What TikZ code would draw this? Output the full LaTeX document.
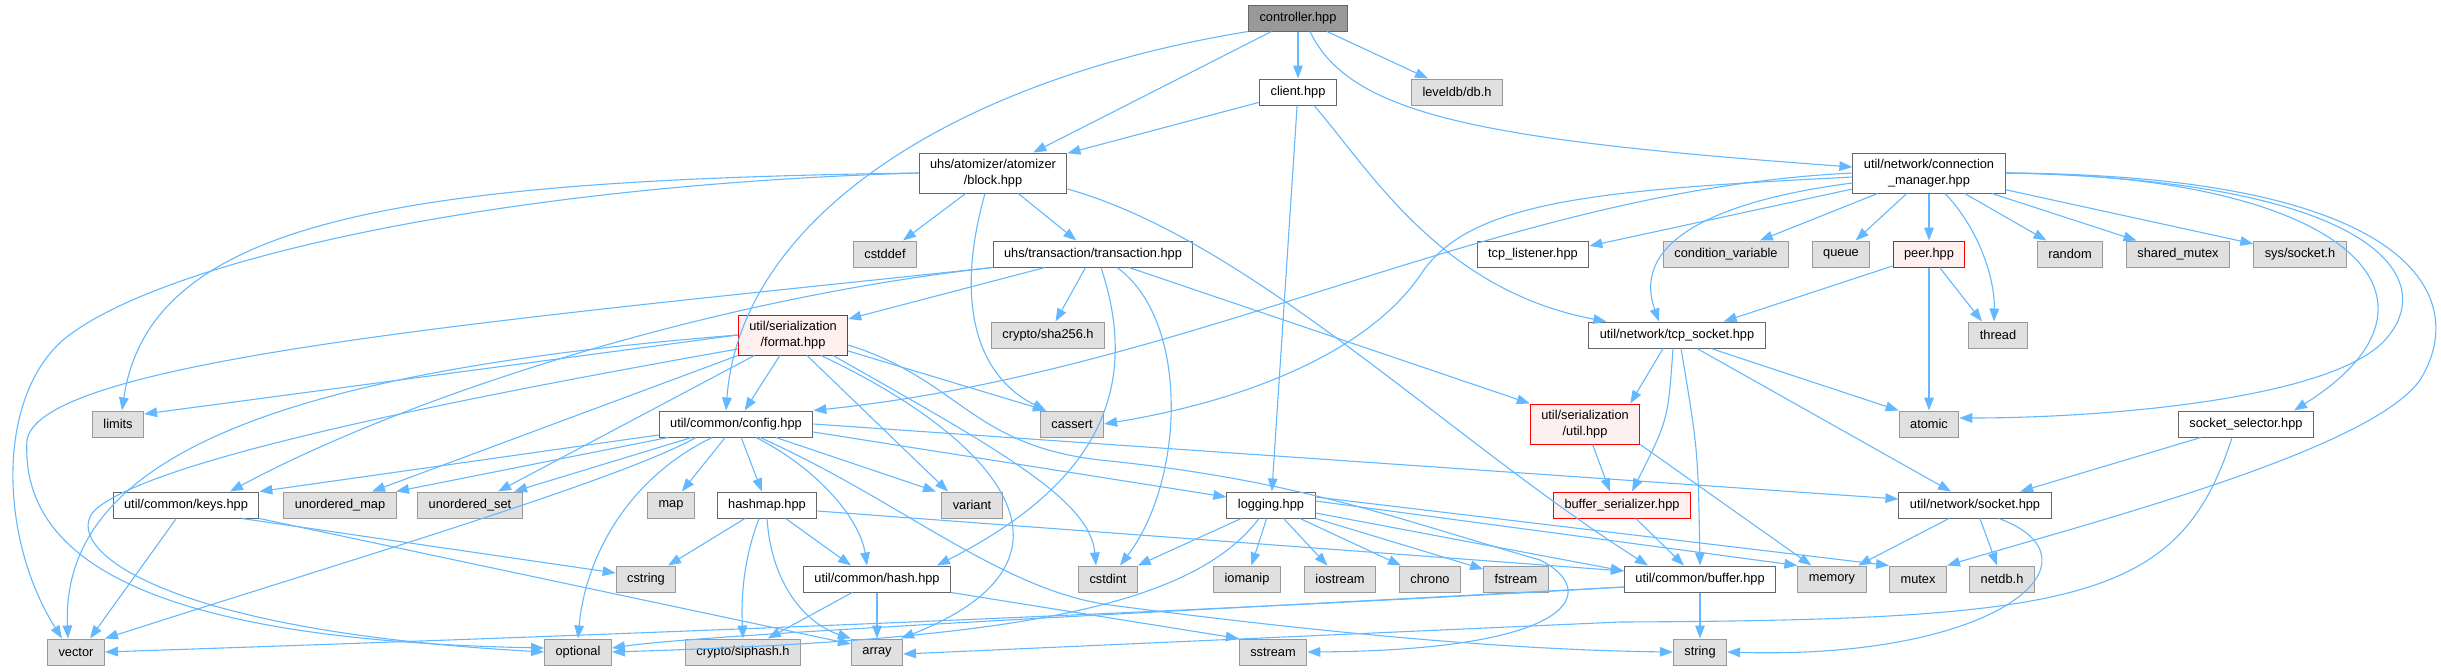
\documentclass[tikz,border=0pt]{standalone}
\usepackage{fontspec}
\setmainfont{Liberation Sans}
\usetikzlibrary{arrows.meta}
\tikzset{
  hdr/.style={draw={rgb,255:red,102;green,102;blue,102},fill=white,line width=0.5pt,inner xsep=5.5pt,inner ysep=0pt,minimum height=13pt,align=center,font=\fontsize{6.4}{7.7}\selectfont},
  sys/.style={hdr,draw={rgb,255:red,153;green,153;blue,153},fill={rgb,255:red,224;green,224;blue,224}},
  top/.style={hdr,fill={rgb,255:red,153;green,153;blue,153}},
  trunc/.style={hdr,draw={rgb,255:red,255;green,0;blue,0},fill={rgb,255:red,255;green,240;blue,240}},
  twoline/.style={minimum height=20pt},
  dep/.style={draw={rgb,255:red,99;green,184;blue,255},line width=0.55pt,-{Triangle[length=6.5pt,width=4.8pt]}}
}
\begin{document}
\begin{tikzpicture}[x=.5pt,y=-.5pt]
\path[use as bounding box] (0,0) rectangle (2441,671);
\node[top] (ctrl) at (1298,18) {controller.hpp};
\node[hdr] (client) at (1298,92) {client.hpp};
\node[sys] (leveldb) at (1457,92) {leveldb/db.h};
\node[hdr,twoline] (block) at (993,173) {uhs/atomizer/atomizer\\/block.hpp};
\node[hdr,twoline] (connmgr) at (1929,173) {util/network/connection\\\_manager.hpp};
\node[sys] (cstddef) at (885,254) {cstddef};
\node[hdr] (transaction) at (1093,254) {uhs/transaction/transaction.hpp};
\node[hdr] (tcplistener) at (1533,254) {tcp\_listener.hpp};
\node[sys] (condvar) at (1726,254) {condition\_variable};
\node[sys] (queue) at (1841,254) {queue};
\node[trunc] (peer) at (1929,254) {peer.hpp};
\node[sys] (random) at (2070,254) {random};
\node[sys] (sharedmutex) at (2178,254) {shared\_mutex};
\node[sys] (syssocket) at (2300,254) {sys/socket.h};
\node[trunc,twoline] (format) at (793,335) {util/serialization\\/format.hpp};
\node[sys] (sha256) at (1048,335) {crypto/sha256.h};
\node[hdr] (tcpsocket) at (1677,335) {util/network/tcp\_socket.hpp};
\node[sys] (thread) at (1998,335) {thread};
\node[sys] (limits) at (118,424) {limits};
\node[hdr] (config) at (736,424) {util/common/config.hpp};
\node[sys] (cassert) at (1072,424) {cassert};
\node[trunc,twoline] (serutil) at (1585,424) {util/serialization\\/util.hpp};
\node[sys] (atomic) at (1929,424) {atomic};
\node[hdr] (sockselector) at (2246,424) {socket\_selector.hpp};
\node[hdr] (keys) at (186,505) {util/common/keys.hpp};
\node[sys] (umap) at (340,505) {unordered\_map};
\node[sys] (uset) at (470,505) {unordered\_set};
\node[sys] (map) at (671,505) {map};
\node[hdr] (hashmap) at (767,505) {hashmap.hpp};
\node[sys] (variant) at (972,505) {variant};
\node[hdr] (logging) at (1271,505) {logging.hpp};
\node[trunc] (bufserial) at (1622,505) {buffer\_serializer.hpp};
\node[hdr] (socket) at (1975,505) {util/network/socket.hpp};
\node[sys] (cstring) at (646,579) {cstring};
\node[hdr] (hash) at (877,579) {util/common/hash.hpp};
\node[sys] (cstdint) at (1108,579) {cstdint};
\node[sys] (iomanip) at (1247,579) {iomanip};
\node[sys] (iostream) at (1340,579) {iostream};
\node[sys] (chrono) at (1430,579) {chrono};
\node[sys] (fstream) at (1516,579) {fstream};
\node[hdr] (buffer) at (1700,579) {util/common/buffer.hpp};
\node[sys] (memory) at (1832,579) {memory};
\node[sys] (mutex) at (1918,579) {mutex};
\node[sys] (netdb) at (2002,579) {netdb.h};
\node[sys] (vector) at (76,652) {vector};
\node[sys] (optional) at (578,652) {optional};
\node[sys] (siphash) at (743,652) {crypto/siphash.h};
\node[sys] (array) at (877,652) {array};
\node[sys] (sstream) at (1273,652) {sstream};
\node[sys] (string) at (1700,652) {string};
\draw[dep] (ctrl) -- (block);
\draw[dep] (ctrl) -- (client);
\draw[dep] (ctrl) -- (leveldb);
\draw[dep] ([xshift=6pt]ctrl.south) .. controls (1350,115) and (1480,140) .. ([yshift=3pt]connmgr.west);
\draw[dep] (ctrl.south west) .. controls (950,80) and (740,220) .. ([xshift=-5pt]config.north);
\draw[dep] (client) -- (block);
\draw[dep] (client) -- (logging);
\draw[dep] ([xshift=8pt]client.south) .. controls (1370,170) and (1440,290) .. ([xshift=9pt]tcpsocket.north west);
\draw[dep] (block) -- (cstddef);
\draw[dep] (block) -- (transaction);
\draw[dep] ([xshift=-4pt]block.south) .. controls (955,300) and (975,375) .. ([xshift=-13pt]cassert.north);
\draw[dep] ([yshift=-8pt]block.east) .. controls (1250,240) and (1450,440) .. ([xshift=-26pt]buffer.north);
\draw[dep] (block.west) .. controls (500,185) and (160,260) .. (63,340) .. controls (-5,400) and (0,540) .. ([xshift=-7pt]vector.north);
\draw[dep] (block.west) .. controls (400,180) and (150,220) .. ([xshift=2pt]limits.north);
\draw[dep] ([xshift=-24pt]transaction.south) -- ([yshift=8pt]format.east);
\draw[dep] (transaction) -- (sha256);
\draw[dep] ([xshift=4pt]transaction.south) .. controls (1145,400) and (1085,490) .. ([xshift=30pt]hash.north);
\draw[dep] ([xshift=12pt]transaction.south) .. controls (1190,320) and (1185,480) .. ([xshift=6pt]cstdint.north);
\draw[dep] ([xshift=18pt]transaction.south) -- (serutil.north west);
\draw[dep] (transaction.south west) .. controls (700,300) and (400,400) .. ([xshift=22pt]keys.north);
\draw[dep] (transaction.south west) .. controls (500,320) and (40,360) .. (27,440) .. controls (20,560) and (150,640) .. ([yshift=2pt]optional.west);
\draw[dep] (format) -- (config);
\draw[dep] (format.west) -- ([yshift=5pt]limits.east);
\draw[dep] (format.west) .. controls (300,370) and (60,450) .. ([xshift=-4pt]vector.north);
\draw[dep] ([yshift=-7pt]format.west) .. controls (450,400) and (150,460) .. (95,510) .. controls (60,545) and (150,630) .. (optional.west);
\draw[dep] (format) -- ([xshift=16pt]umap.north);
\draw[dep] (format) -- ([xshift=14pt]uset.north);
\draw[dep] ([yshift=-8pt]format.east) -- ([xshift=-13pt]cassert.north);
\draw[dep] ([xshift=7pt]format.south) -- ([xshift=-12pt]variant.north);
\draw[dep] ([xshift=20pt]format.south) .. controls (1000,450) and (1090,500) .. ([xshift=-6pt]cstdint.north);
\draw[dep] ([xshift=14pt]format.south) .. controls (1000,440) and (1100,560) .. ([xshift=12pt]array.north);
\draw[dep] ([yshift=-5pt]format.east) .. controls (960,380) and (970,445) .. (1100,460) .. controls (1300,480) and (1400,520) .. (1540,560) .. controls (1600,590) and (1580,650) .. (sstream.east);
\draw[dep] (config) -- (keys.north east);
\draw[dep] (config) -- ([xshift=28pt]umap.north);
\draw[dep] (config) -- ([xshift=22pt]uset.north);
\draw[dep] (config) -- (map);
\draw[dep] (config) -- (hashmap);
\draw[dep] (config) -- ([xshift=-18pt]variant.north);
\draw[dep] ([xshift=10pt]config.south) .. controls (820,470) and (860,520) .. ([xshift=-5pt]hash.north);
\draw[dep] ([xshift=-20pt]config.south) .. controls (620,480) and (350,560) .. (vector.north east);
\draw[dep] ([xshift=-12pt]config.south) .. controls (625,480) and (585,560) .. (optional.north);
\draw[dep] ([yshift=-4pt]config.east) -- ([yshift=4pt]logging.west);
\draw[dep] (config.east) -- ([yshift=3pt]socket.west);
\draw[dep] ([xshift=12pt]config.south) .. controls (900,500) and (1000,590) .. (1110,605) .. controls (1300,630) and (1500,650) .. (string.west);
\draw[dep] (hashmap) -- (cstring);
\draw[dep] ([xshift=-4pt]hashmap.south) .. controls (743,560) and (741,600) .. (siphash.north);
\draw[dep] (hashmap.south) .. controls (772,590) and (810,625) .. (array.north west);
\draw[dep] (hashmap) -- ([xshift=-13pt]hash.north);
\draw[dep] ([yshift=-3pt]hashmap.east) -- ([yshift=4pt]buffer.west);
\draw[dep] (keys) -- ([xshift=7pt]vector.north);
\draw[dep] ([xshift=28pt]keys.south) -- ([yshift=3pt]cstring.west);
\draw[dep] (keys.south east) -- ([yshift=4pt]array.west);
\draw[dep] (hash) -- (siphash);
\draw[dep] (hash) -- (array);
\draw[dep] (hash.south east) -- (sstream.north west);
\draw[dep] (logging) -- (cstdint);
\draw[dep] (logging) -- (iomanip);
\draw[dep] (logging) -- (iostream);
\draw[dep] (logging) -- (chrono);
\draw[dep] (logging) -- (fstream);
\draw[dep] ([yshift=-4pt]logging.east) -- ([yshift=4pt]buffer.west);
\draw[dep] ([yshift=2pt]logging.east) -- (memory.north west);
\draw[dep] ([yshift=4pt]logging.east) -- (mutex.north west);
\draw[dep] ([xshift=-6pt]logging.south) .. controls (1190,610) and (1000,640) .. (optional.east);
\draw[dep] (buffer) -- (string);
\draw[dep] ([yshift=-4pt]buffer.west) .. controls (1100,615) and (700,635) .. ([yshift=2pt]optional.east);
\draw[dep] ([yshift=-4pt]buffer.west) .. controls (1100,618) and (400,642) .. (vector.east);
\draw[dep] (socket) -- (memory);
\draw[dep] (socket) -- (netdb);
\draw[dep] ([xshift=12pt]socket.south) .. controls (2110,560) and (2000,660) .. (string.east);
\draw[dep] (sockselector) -- (socket);
\draw[dep] ([xshift=-7pt]sockselector.south) .. controls (2180,600) and (2080,620) .. (1620,622) -- ([yshift=-1pt]array.east);
\draw[dep] (connmgr) -- (condvar);
\draw[dep] (connmgr) -- (queue);
\draw[dep] (connmgr) -- (peer);
\draw[dep] (connmgr) -- (random);
\draw[dep] (connmgr) -- (sharedmutex);
\draw[dep] (connmgr) -- (syssocket);
\draw[dep] ([xshift=8pt]connmgr.south) .. controls (1980,230) and (1995,280) .. ([xshift=-2pt]thread.north);
\draw[dep] ([yshift=-8pt]connmgr.west) -- ([yshift=4pt]tcplistener.east);
\draw[dep] ([yshift=-5pt]connmgr.west) .. controls (1720,200) and (1630,240) .. ([xshift=-9pt]tcpsocket.north);
\draw[dep] (connmgr.west) .. controls (1500,190) and (1200,370) .. (config.north east);
\draw[dep] ([yshift=-2pt]connmgr.west) .. controls (1600,190) and (1470,200) .. (1421,274) .. controls (1370,350) and (1250,400) .. (cassert.east);
\draw[dep] (connmgr.east) .. controls (2350,175) and (2470,300) .. ([xshift=24pt]sockselector.north);
\draw[dep] (connmgr.east) .. controls (2380,180) and (2440,280) .. (2385,340) .. controls (2330,400) and (2100,418) .. ([yshift=3pt]atomic.east);
\draw[dep] (connmgr.east) .. controls (2420,175) and (2470,300) .. (2420,380) .. controls (2370,450) and (2100,520) .. (mutex.north east);
\draw[dep] ([xshift=-7pt]tcpsocket.south) -- ([xshift=-5pt]serutil.north east);
\draw[dep] ([xshift=-2pt]tcpsocket.south) .. controls (1668,420) .. ([xshift=5pt]bufserial.north);
\draw[dep] ([xshift=2pt]tcpsocket.south) .. controls (1698,450) .. (buffer.north);
\draw[dep] ([xshift=10pt]tcpsocket.south) -- ([xshift=-12pt]socket.north);
\draw[dep] ([xshift=17pt]tcpsocket.south) -- (atomic.north west);
\draw[dep] (peer) -- ([xshift=-21pt]tcpsocket.north east);
\draw[dep] (peer) -- ([xshift=-8pt]thread.north);
\draw[dep] (peer) -- (atomic);
\draw[dep] (serutil) -- ([xshift=-6pt]bufserial.north);
\draw[dep] (serutil.south east) -- ([xshift=7pt]memory.north west);
\draw[dep] (bufserial) -- ([xshift=-8pt]buffer.north);
\end{tikzpicture}
\end{document}
